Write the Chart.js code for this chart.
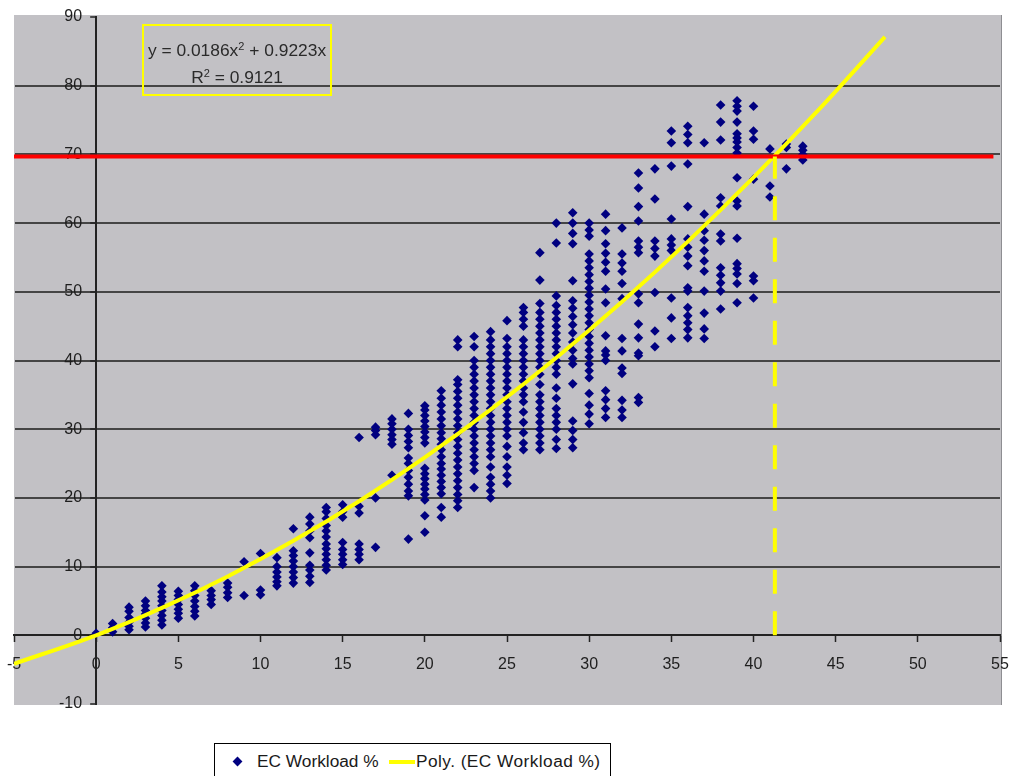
<!DOCTYPE html>
<html>
<head>
<meta charset="utf-8">
<script src="https://cdn.jsdelivr.net/npm/chart.js@4/dist/chart.umd.min.js"></script>
<style>
  html, body { margin: 0; padding: 0; background: #ffffff; }
  #wrap { position: relative; width: 1009px; height: 776px; overflow: hidden; font-family: "Liberation Sans", Arial, sans-serif; }
  #chart { position: absolute; left: 0; top: 0; }
  .eqbox {
    position: absolute; left: 142px; top: 24px; width: 186px; height: 68px;
    border: 2px solid #ffff00; color: #2a2a2a; font-size: 17.4px; text-align: center;
  }
  .eqbox .l1 { position: absolute; left: 0; right: 0; top: 14px; line-height: 20px; }
  .eqbox .l2 { position: absolute; left: 0; right: 0; top: 41px; line-height: 20px; }
  .eqbox sup { font-size: 11px; vertical-align: 0; position: relative; top: -6px; }
  .legend {
    position: absolute; left: 214px; top: 743px; width: 395px; height: 44px;
    border: 1px solid #000; background: #fff; font-size: 17.3px; color: #1a1a1a;
  }
  .legend .diamond {
    position: absolute; left: 19px; top: 14px; width: 7px; height: 7px;
    background: #000080; transform: rotate(45deg);
  }
  .legend .t1 { position: absolute; left: 42px; top: 7px; line-height: 20px; }
  .legend .swatch { position: absolute; left: 174px; top: 16px; width: 26px; height: 4px; background: #ffff00; }
  .legend .t2 { position: absolute; left: 201px; top: 7px; line-height: 20px; letter-spacing: 0.45px; }
</style>
</head>
<body>
<div id="wrap">
  <canvas id="chart" width="1009" height="776"></canvas>
  <div class="eqbox">
    <div class="l1">y = 0.0186x<sup>2</sup> + 0.9223x</div>
    <div class="l2">R<sup>2</sup> = 0.9121</div>
  </div>
  <div class="legend">
    <div class="diamond"></div>
    <div class="t1">EC Workload %</div>
    <div class="swatch"></div>
    <div class="t2">Poly. (EC Workload %)</div>
  </div>
</div>
<script>
// Axis ranges and ticks
const xMin = -5, xMax = 55, xStep = 5;
const yMin = -10, yMax = 90, yStep = 10;

// Hours on the x axis; each entry of `workload` lists the EC workload % values observed at that hour
const hours = [0, 1, 2, 3, 4, 5, 6, 7, 8, 9, 10, 11, 12, 13, 14, 15, 16, 17, 18, 19, 20, 21,
  22, 23, 24, 25, 26, 27, 28, 29, 30, 31, 32, 33, 34, 35, 36, 37, 38, 39, 40, 41, 42, 43];
const workload = [
  [0.3],
  [0.5, 1.1, 1.7],
  [0.8, 1.3, 1.9, 2.6, 3.5, 4.1],
  [1.2, 1.8, 2.5, 3.1, 3.6, 4.3, 5.0],
  [1.5, 2.2, 2.9, 3.6, 4.3, 5.0, 5.6, 6.3, 7.2],
  [2.5, 3.2, 3.8, 4.5, 5.2, 5.8, 6.4],
  [2.8, 3.5, 4.2, 5.0, 5.8, 6.5, 7.2],
  [4.5, 5.2, 5.8, 6.5],
  [5.5, 6.2, 7.0, 7.6],
  [5.8, 10.7],
  [5.9, 6.6, 11.9],
  [7.2, 7.8, 8.5, 9.2, 10.0, 11.3],
  [7.6, 8.4, 9.2, 10.0, 10.8, 11.6, 12.3, 15.5],
  [7.7, 8.6, 9.5, 10.2, 12.0, 14.2, 15.2, 16.2, 17.2],
  [9.5, 10.2, 11.0, 11.8, 12.6, 13.3, 14.3, 15.2, 16.0, 17.0, 18.0, 18.6],
  [10.3, 11.0, 11.8, 12.5, 13.5, 17.2, 18.0, 19.0],
  [11.0, 11.8, 12.5, 13.3, 17.8, 18.8, 28.8],
  [12.8, 20.0, 29.2, 29.8, 30.3],
  [23.3, 27.8, 28.5, 29.2, 30.0, 30.8, 31.5],
  [14.0, 20.3, 21.0, 22.0, 23.0, 24.0, 25.0, 25.8, 27.3, 28.2, 29.1, 30.0, 32.3],
  [15.0, 17.4, 19.7, 20.5, 21.3, 22.0, 22.8, 23.5, 24.3, 28.0, 28.8, 29.6, 30.4, 31.2, 32.0, 32.8, 33.4],
  [17.2, 18.6, 20.6, 21.5, 22.4, 23.3, 24.2, 25.0, 26.0, 27.0, 27.8, 28.6, 29.5, 30.5, 31.5, 32.5, 33.5, 34.5, 35.6],
  [18.6, 19.6, 20.5, 21.5, 22.5, 23.5, 24.5, 25.5, 26.5, 27.5, 28.5, 29.5, 30.5, 31.5, 32.5, 33.5, 34.5, 35.5, 36.5, 37.2, 42.0, 43.0],
  [21.5, 24.0, 25.0, 26.0, 27.0, 28.0, 29.0, 30.0, 31.0, 32.0, 33.0, 34.0, 35.0, 36.0, 37.0, 38.0, 39.0, 40.0, 42.0, 43.5],
  [20.0, 21.0, 22.0, 23.0, 24.5, 26.0, 27.0, 28.0, 29.0, 30.0, 31.0, 32.0, 33.0, 34.0, 35.0, 36.0, 37.0, 38.0, 39.0, 40.0, 41.0, 42.0, 43.0, 44.2],
  [22.1, 23.3, 24.5, 26.0, 27.5, 29.0, 30.0, 31.0, 32.0, 33.0, 34.0, 35.0, 36.0, 37.0, 38.0, 39.0, 40.0, 41.0, 42.0, 43.2, 45.8],
  [27.0, 28.0, 29.5, 31.0, 32.5, 34.0, 35.0, 36.0, 37.0, 38.0, 39.0, 40.0, 41.0, 42.0, 43.0, 45.0, 46.0, 47.0, 47.7],
  [27.0, 28.0, 29.0, 30.0, 31.0, 32.0, 33.0, 34.0, 35.0, 36.5, 38.0, 39.0, 40.0, 41.0, 42.0, 43.0, 44.0, 45.0, 46.0, 47.0, 48.3, 51.7, 55.7],
  [27.2, 28.5, 30.0, 31.0, 32.0, 33.0, 34.5, 36.0, 38.0, 39.0, 40.0, 41.0, 42.0, 43.0, 44.0, 45.0, 46.0, 47.0, 48.0, 49.4, 57.1, 60.0],
  [27.3, 28.5, 29.8, 31.2, 36.6, 39.5, 40.3, 41.5, 42.7, 44.0, 45.2, 46.4, 47.6, 48.7, 51.6, 57.0, 58.5, 60.0, 61.5],
  [30.8, 32.2, 33.5, 35.2, 37.5, 38.5, 39.5, 40.5, 41.5, 42.5, 43.5, 44.5, 45.5, 46.5, 47.5, 48.5, 49.5, 50.5, 51.5, 52.5, 53.5, 54.5, 55.5, 58.1, 59.0, 60.0],
  [31.7, 33.0, 34.3, 35.6, 40.0, 40.8, 41.4, 43.6, 48.4, 50.4, 53.0, 54.3, 55.6, 57.0, 58.9, 61.3],
  [31.7, 32.8, 34.2, 38.1, 38.9, 41.4, 43.2, 49.0, 51.2, 53.0, 54.2, 55.5, 59.3],
  [33.9, 34.6, 40.7, 41.1, 43.3, 45.3, 48.4, 49.7, 55.7, 56.5, 57.4, 60.3, 62.4, 65.1, 67.3],
  [42.0, 44.3, 49.9, 55.2, 56.3, 57.4, 63.5, 67.9],
  [43.2, 46.2, 49.1, 56.0, 56.8, 57.7, 60.6, 68.3, 71.7, 73.4],
  [43.3, 44.5, 45.5, 46.5, 47.7, 50.1, 50.6, 53.8, 55.2, 56.5, 57.7, 62.4, 68.6, 71.7, 72.9, 74.1],
  [43.2, 44.6, 46.9, 50.1, 53.0, 54.5, 56.0, 57.5, 58.9, 61.3, 71.7],
  [47.5, 50.1, 51.3, 52.4, 53.5, 57.4, 58.4, 62.5, 63.7, 72.1, 74.7, 77.2],
  [48.4, 51.2, 52.6, 53.4, 54.1, 57.8, 62.5, 63.2, 66.6, 70.2, 71.0, 71.8, 72.4, 73.0, 74.7, 76.3, 77.0, 77.8],
  [49.1, 51.6, 52.3, 66.4, 72.2, 73.4, 77.0],
  [63.8, 65.4, 70.8],
  [67.9, 71.0, 71.5],
  [69.2, 70.0, 70.6, 71.2]
];

// Polynomial trendline y = 0.0186x² + 0.9223x, tabulated at these x positions
const trendX = [-5, 0, 4, 8, 12, 16, 20, 24, 28, 32, 36, 40, 44, 48];
const trendY = [-4.15, 0, 3.99, 8.57, 13.75, 19.52, 25.89, 32.85, 40.41, 48.56, 57.31, 66.65, 76.59, 87.12];

// 70% threshold (horizontal) and the hour where the trendline reaches it (vertical dashed)
const thresholdY = 69.7;
const thresholdLineX = [-5, 54.6];
const crossingX = 41.3;

const scatterPoints = hours.flatMap((h, i) => workload[i].map(v => ({ x: h, y: v })));
const trendPoints = trendX.map((x, i) => ({ x, y: trendY[i] }));
const thresholdPoints = thresholdLineX.map(x => ({ x, y: thresholdY }));
const crossingPoints = [{ x: crossingX, y: 0 }, { x: crossingX, y: thresholdY }];

const tickFont = { family: '"Liberation Sans", Arial, sans-serif', size: 16 };

// Grey plot-area fill behind the grid
const plotBackground = {
  id: 'plotBackground',
  beforeDraw(chart) {
    const { ctx, chartArea: a } = chart;
    ctx.save();
    ctx.fillStyle = '#c2c1c5';
    ctx.fillRect(a.left, a.top - 2, a.right - a.left + 2, a.bottom - a.top + 3);
    ctx.strokeStyle = '#8e8e92';
    ctx.lineWidth = 1;
    ctx.beginPath();
    ctx.moveTo(a.right + 1.5, a.top - 2);
    ctx.lineTo(a.right + 1.5, a.bottom + 1);
    ctx.stroke();
    ctx.restore();
  }
};

// The value axis crosses the horizontal axis at x = 0, inside the plot area
const crossAxes = {
  id: 'crossAxes',
  afterLayout(chart) {
    const { x, y } = chart.scales;
    const px = x.getPixelForValue(0);
    y.left = 0;
    y.right = px;
    y.width = px;
    y._labelItems = null;
    y._gridLineItems = null;
  }
};

new Chart(document.getElementById('chart'), {
  type: 'scatter',
  data: {
    datasets: [
      {
        label: 'EC Workload %',
        data: scatterPoints,
        pointStyle: 'rectRot',
        pointRadius: 4.8,
        pointHoverRadius: 4.8,
        backgroundColor: '#000080',
        borderColor: '#000080',
        borderWidth: 0,
        order: 4
      },
      {
        type: 'line',
        label: 'Poly. (EC Workload %)',
        data: trendPoints,
        borderColor: '#ffff00',
        borderWidth: 4,
        pointRadius: 0,
        fill: false,
        cubicInterpolationMode: 'monotone',
        order: 3
      },
      {
        type: 'line',
        label: 'Threshold',
        data: thresholdPoints,
        borderColor: '#ff0000',
        borderWidth: 4,
        pointRadius: 0,
        fill: false,
        order: 2
      },
      {
        type: 'line',
        label: 'Crossing',
        data: crossingPoints,
        borderColor: '#ffff00',
        borderWidth: 4,
        borderDash: [24, 17.5],
        borderCapStyle: 'butt',
        pointRadius: 0,
        fill: false,
        order: 1
      }
    ]
  },
  options: {
    responsive: false,
    animation: false,
    events: [],
    layout: { padding: { left: 14, right: 9, top: 17, bottom: 72 } },
    plugins: {
      legend: { display: false },
      tooltip: { enabled: false }
    },
    scales: {
      x: {
        type: 'linear',
        min: xMin, max: xMax,
        position: { y: 0 },
        afterFit(scale) { scale.height = 0; scale.paddingLeft = 0; scale.paddingRight = 0; },
        ticks: { stepSize: xStep, font: tickFont, color: '#1e1e1e', padding: 14, maxRotation: 0, autoSkip: false },
        grid: { drawOnChartArea: false, drawTicks: true, tickLength: 6, tickColor: '#222', tickWidth: 1.5 },
        border: { display: true, color: '#222', width: 2 }
      },
      y: {
        type: 'linear',
        min: yMin, max: yMax,
        position: 'left',
        afterFit(scale) { scale.width = 0; scale.paddingTop = 0; scale.paddingBottom = 0; },
        ticks: { stepSize: yStep, font: tickFont, color: '#1e1e1e', padding: 8, autoSkip: false },
        grid: {
          drawTicks: true, tickLength: 6, tickColor: '#222', tickWidth: 1.5,
          color: ctx => (ctx.tick && (ctx.tick.value === yMin || ctx.tick.value === yMax)) ? 'rgba(0,0,0,0)' : '#454545',
          lineWidth: 2
        },
        border: { display: true, color: '#222', width: 2 }
      }
    }
  },
  plugins: [plotBackground, crossAxes]
});
</script>
</body>
</html>
